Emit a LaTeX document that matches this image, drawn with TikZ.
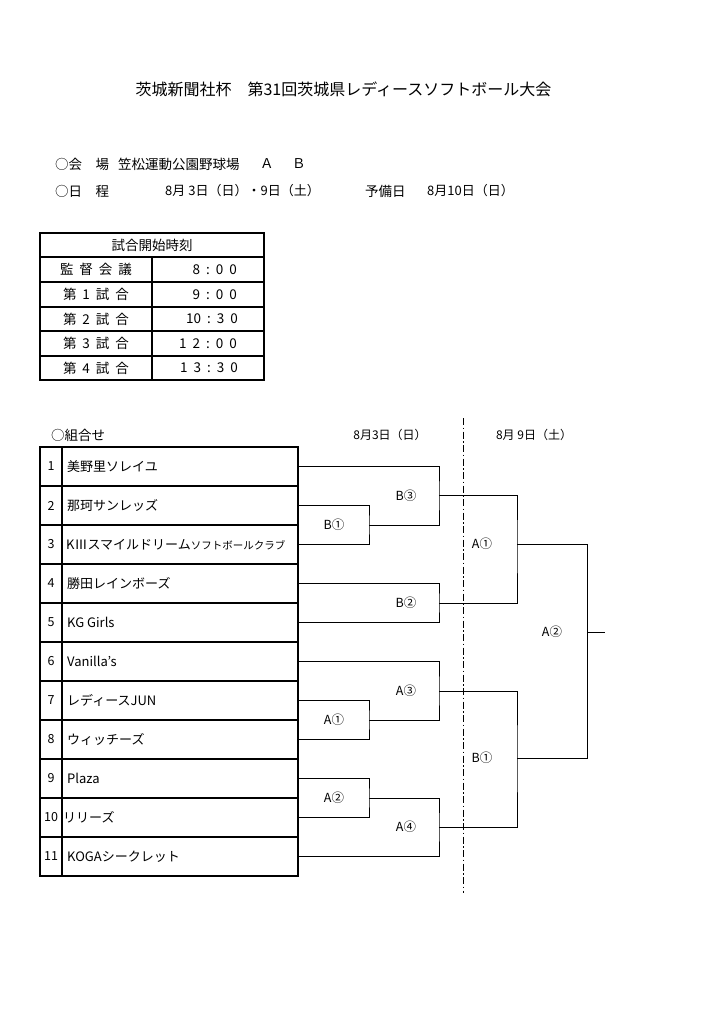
\documentclass[tikz,border=0pt]{standalone}
\usepackage{fontspec}
\setmainfont{Noto Sans CJK JP}
\newcommand{\chargap}{\hspace{6pt}}

\begin{document}
\begin{tikzpicture}[x=1pt, y=-1pt,
    title/.style ={inner sep=0pt, font=\fontsize{16}{16}\selectfont},
    info/.style ={anchor=west, inner sep=0pt, font=\fontsize{13.5}{13.5}\selectfont},
    cell/.style ={inner sep=0pt, font=\fontsize{13.5}{13.5}\selectfont},
    team/.style ={anchor=west, inner sep=0pt, font=\fontsize{13}{13}\selectfont},
    num/.style ={inner sep=0pt, font=\fontsize{12.5}{12.5}\selectfont},
    game/.style ={inner sep=0pt, font=\fontsize{12.5}{12.5}\selectfont},
    day/.style ={inner sep=0pt, font=\fontsize{12}{12}\selectfont},
    frame/.style ={line width=1.2pt},
    bracket/.style ={line width=0.9pt}]
   \useasboundingbox (0,0) rectangle (724,1024);

   \node[title] (T) at (343.5,89) {茨城新聞社杯　第31回茨城県レディースソフトボール大会};

   \node[info] (P1) at (55,164) {○会　場};
   \node[info] (P2) at (118,164) {笠松運動公園野球場};
   \node[info] (P3) at (260,164) {Ａ};
   \node[info] (P4) at (292,164) {Ｂ};
   \node[info] (D1) at (55,191) {○日　程};
   \node[info, font=\fontsize{13}{13}\selectfont] (D2) at (165,191) {8月 3日（日）・9日（土）};
   \node[info] (D3) at (365,191) {予備日};
   \node[info, font=\fontsize{13}{13}\selectfont] (D4) at (427,191) {8月10日（日）};

   \draw[frame] (40,233) rectangle (264,380);
   \draw[frame] (40,257) -- (264,257);
   \draw[frame] (40,282) -- (264,282);
   \draw[frame] (40,307) -- (264,307);
   \draw[frame] (40,331) -- (264,331);
   \draw[frame] (40,356) -- (264,356);
   \draw[frame] (152,257) -- (152,380);

   \node[cell] (H) at (152,245) {試合開始時刻};
   \node[cell] (K1) at (96,269.5) {監\chargap 督\chargap 会\chargap 議};
   \node[cell] (K2) at (96,294.5) {第\chargap 1\chargap 試\chargap 合};
   \node[cell] (K3) at (96,319) {第\chargap 2\chargap 試\chargap 合};
   \node[cell] (K4) at (96,343.5) {第\chargap 3\chargap 試\chargap 合};
   \node[cell] (K5) at (96,368) {第\chargap 4\chargap 試\chargap 合};
   \node[cell, anchor=east] (V1) at (237,269.5) {8\chargap :\chargap 0\chargap 0};
   \node[cell, anchor=east] (V2) at (237,294.5) {9\chargap :\chargap 0\chargap 0};
   \node[cell, anchor=east] (V3) at (238,319) {10\chargap :\chargap 3\chargap 0};
   \node[cell, anchor=east] (V4) at (237,343.5) {1\chargap 2\chargap :\chargap 0\chargap 0};
   \node[cell, anchor=east] (V5) at (238,368) {1\chargap 3\chargap :\chargap 3\chargap 0};

   \node[info] (G) at (51,435) {○組合せ};
   \node[day] (Day1) at (390,435) {8月3日（日）};
   \node[day] (Day2) at (534,435) {8月 9日（土）};

   \draw[frame] (40,447) rectangle (298,876);
   \draw[frame] (62,447) -- (62,876);
   \draw[frame] (40,486) -- (298,486);
   \draw[frame] (40,525) -- (298,525);
   \draw[frame] (40,564) -- (298,564);
   \draw[frame] (40,603) -- (298,603);
   \draw[frame] (40,642) -- (298,642);
   \draw[frame] (40,681) -- (298,681);
   \draw[frame] (40,720) -- (298,720);
   \draw[frame] (40,759) -- (298,759);
   \draw[frame] (40,798) -- (298,798);
   \draw[frame] (40,837) -- (298,837);

   \node[num] (n1) at (51,466.5) {1};
   \node[num] (n2) at (51,505.5) {2};
   \node[num] (n3) at (51,544.5) {3};
   \node[num] (n4) at (51,583.5) {4};
   \node[num] (n5) at (51,622.5) {5};
   \node[num] (n6) at (51,661.5) {6};
   \node[num] (n7) at (51,700.5) {7};
   \node[num] (n8) at (51,739.5) {8};
   \node[num] (n9) at (51,778.5) {9};
   \node[num] (n10) at (51,817.5) {10};
   \node[num] (n11) at (51,856.5) {11};

   \node[team] (t1) at (67,466.5) {美野里ソレイユ};
   \node[team] (t2) at (67,505.5) {那珂サンレッズ};
   \node[team] (t3) at (66,544.5) {KⅢスマイルドリーム{\fontsize{10.5}{10.5}\selectfont ソフトボールクラブ}};
   \node[team] (t4) at (67,583.5) {勝田レインボーズ};
   \node[team] (t5) at (67,622.5) {KG Girls};
   \node[team] (t6) at (67,661.5) {Vanilla’s};
   \node[team] (t7) at (67,700.5) {レディースJUN};
   \node[team] (t8) at (67,739.5) {ウィッチーズ};
   \node[team] (t9) at (67,778.5) {Plaza};
   \node[team] (t10) at (63,817.5) {リリーズ};
   \node[team] (t11) at (67,856.5) {KOGAシークレット};

   \coordinate (s1) at (298,466.5);
   \coordinate (s2) at (298,505.5);
   \coordinate (s3) at (298,544.5);
   \coordinate (s4) at (298,583.5);
   \coordinate (s5) at (298,622.5);
   \coordinate (s6) at (298,661.5);
   \coordinate (s7) at (298,700.5);
   \coordinate (s8) at (298,739.5);
   \coordinate (s9) at (298,778.5);
   \coordinate (s10) at (298,817.5);
   \coordinate (s11) at (298,856.5);

   \coordinate (B1) at (369,525);
   \coordinate (B3) at (439,495.5);
   \coordinate (B2) at (439,603);
   \coordinate (A1) at (369,720);
   \coordinate (A3) at (439,691);
   \coordinate (A2) at (369,798);
   \coordinate (A4) at (439,827);
   \coordinate (SA1) at (517,544);
   \coordinate (SB1) at (517,758);
   \coordinate (SA2) at (587,632);
   \coordinate (W) at (605,632);

   \draw[bracket] (s2) -| (B1) |- (s3);
   \draw[bracket] (s1) -| (B3) |- (B1);
   \draw[bracket] (s4) -| (B2) |- (s5);
   \draw[bracket] (B3) -| (SA1) |- (B2);
   \draw[bracket] (s7) -| (A1) |- (s8);
   \draw[bracket] (s6) -| (A3) |- (A1);
   \draw[bracket] (s9) -| (A2) |- (s10);
   \draw[bracket] (A2) -| (A4) |- (s11);
   \draw[bracket] (A3) -| (SB1) |- (A4);
   \draw[bracket] (SA1) -| (SA2) |- (SB1);
   \draw[bracket] (SA2) -- (W);

   \node[game] (gB1) at (334,525) {B①};
   \node[game] (gB3) at (406,495.5) {B③};
   \node[game] (gB2) at (406,603) {B②};
   \node[game] (gA1) at (334,720) {A①};
   \node[game] (gA3) at (406,691) {A③};
   \node[game] (gA2) at (334,798) {A②};
   \node[game] (gA4) at (406,827) {A④};
   \node[game] (gSA1) at (482,544) {A①};
   \node[game] (gSB1) at (482,758) {B①};
   \node[game] (gSA2) at (552,632) {A②};

   \coordinate (Ltop) at (463,418);
   \coordinate (Lbot) at (463,893);
   \draw[line width=0.9pt, dash pattern=on 7pt off 2.5pt on 1.5pt off 2.5pt] (Ltop) -- (Lbot);
\end{tikzpicture}
\end{document}
